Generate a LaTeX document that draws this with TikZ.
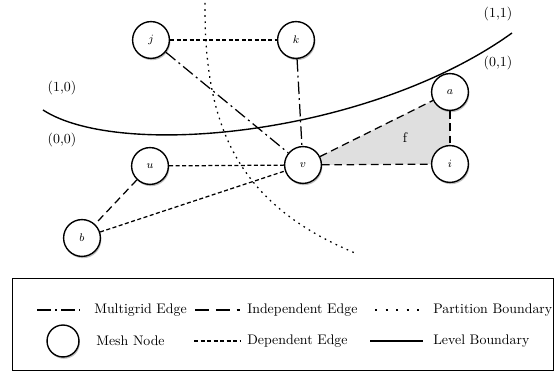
\documentclass[tikz,border=0pt]{standalone}
\usetikzlibrary{shadows,backgrounds}
\begin{document}
\begin{tikzpicture}[
   x=0.72pt,y=-0.72pt,
   mesh/.style={circle,draw,line width=1pt,fill=white,minimum size=26.5pt,inner sep=0pt,font=\footnotesize,
      drop shadow={shadow xshift=0.7pt,shadow yshift=-1.3pt,opacity=0.5}},
   multigrid/.style={line width=0.9pt,dash pattern=on 9pt off 2.9pt on 1.4pt off 2.9pt},
   indep/.style={line width=0.9pt,dash pattern=on 5.5pt off 3.3pt},
   dep/.style={line width=0.9pt,dash pattern=on 2.9pt off 1.8pt},
   partition/.style={line width=0.9pt,dash pattern=on 1.2pt off 3.2pt},
   level/.style={line width=1pt},
   lbl/.style={anchor=west,inner sep=0pt}]
\useasboundingbox (0,0) rectangle (558,374);
\node[mesh] (j) at (151,40) {$j$};
\node[mesh] (k) at (296,40) {$k$};
\node[mesh] (a) at (450,92) {$a$};
\node[mesh] (u) at (150,166) {$u$};
\node[mesh] (v) at (303,165) {$v$};
\node[mesh] (i) at (450,164) {$i$};
\node[mesh] (b) at (82,238) {$b$};
\node (f) at (405,138) {f};
\node (c10) at (62,88) {(1,0)};
\node (c00) at (62,140) {(0,0)};
\node (c11) at (498,14) {(1,1)};
\node (c01) at (498,63) {(0,1)};
\begin{scope}[on background layer]
\fill[gray!25] (v.center) -- (a.center) -- (i.center) -- cycle;
\end{scope}
\draw[level] (43,110) .. controls (120,160) and (370,135) .. (512,33);
\draw[partition] (205,3) .. controls (204,130) and (240,205) .. (355,253);
\draw[dep] (j) -- (k);
\draw[dep] (u) -- (v);
\draw[dep] (b) -- (v);
\draw[indep] (u) -- (b);
\draw[indep] (v) -- (a);
\draw[indep] (v) -- (i);
\draw[indep] (a) -- (i);
\draw[multigrid] (j) -- (v);
\draw[multigrid] (k) -- (v);
\draw[line width=0.6pt,fill=white,drop shadow={shadow xshift=1pt,shadow yshift=-1pt,opacity=0.5}] (12,278) rectangle (553,370);
\draw[multigrid,dash pattern=on 10pt off 3pt on 1.4pt off 3pt] (37,310) -- (80,310);
\node[lbl] (lmg) at (94,310) {Multigrid Edge};
\draw[indep,dash pattern=on 10pt off 5pt] (195,310) -- (240,310);
\node[lbl] (lind) at (247,310) {Independent Edge};
\draw[partition,dash pattern=on 1.4pt off 6.2pt] (375,310) -- (419,310);
\node[lbl] (lpart) at (433,310) {Partition Boundary};
\node[mesh,minimum size=23pt] (lnode) at (63,341) {};
\node[lbl] (lmesh) at (96,341) {Mesh Node};
\draw[dep] (194,341) -- (240,341);
\node[lbl] (ldep) at (247,341) {Dependent Edge};
\draw[level] (370,341) -- (423,341);
\node[lbl] (llev) at (433,341) {Level Boundary};
\end{tikzpicture}
\end{document}
